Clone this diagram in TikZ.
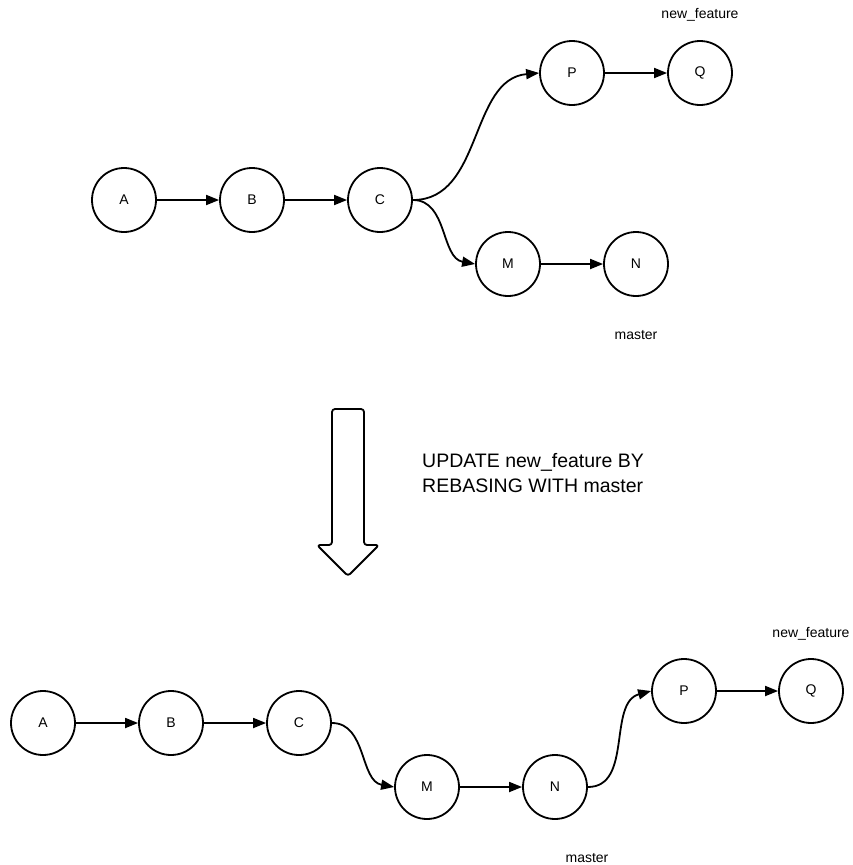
\documentclass[tikz,border=0pt]{standalone}
\usepackage{fontspec}
\setmainfont{Liberation Sans}
\usetikzlibrary{arrows.meta}
\begin{document}
\begin{tikzpicture}[x=1pt,y=-1pt,
  commit/.style={circle,draw,line width=1.8pt,minimum size=64pt,inner sep=0pt,font=\fontsize{14}{17}\selectfont},
  lbl/.style={inner sep=0pt,font=\fontsize{14}{17}\selectfont},
  big/.style={inner sep=0pt,anchor=base west,font=\fontsize{19.5}{24}\selectfont},
  link/.style={line width=1.8pt,-{Triangle[length=13pt,width=10pt]}},
  bigarrow/.style={draw,line width=1.8pt,rounded corners=3pt,line join=round}]
\useasboundingbox (0,0) rectangle (852,865);
% top diagram
\node[commit] (A1) at (124,200) {A};
\node[commit] (B1) at (252,200) {B};
\node[commit] (C1) at (380,200) {C};
\node[commit] (P1) at (572,73) {P};
\node[commit] (Q1) at (700,73) {Q};
\node[commit] (M1) at (508,264) {M};
\node[commit] (N1) at (636,264) {N};
\node[lbl] (nf1) at (700,15) {new\_feature};
\node[lbl] (ms1) at (636,335) {master};
\draw[link] (A1) -- (B1);
\draw[link] (B1) -- (C1);
\draw[link] (C1.east) to[out=0,in=185] (P1.west);
\draw[link] (P1) -- (Q1);
\draw[link] (C1.east) to[out=0,in=170] (M1.west);
\draw[link] (M1) -- (N1);
% big arrow
\draw[bigarrow] (332,409) -- (364,409) -- (364,545) -- (379,545) -- (348,576) -- (317,545) -- (332,545) -- cycle;
\node[big] (t1) at (422,467) {UPDATE new\_feature BY};
\node[big] (t2) at (422,492) {REBASING WITH master};
% bottom diagram
\node[commit] (A2) at (43,723) {A};
\node[commit] (B2) at (171,723) {B};
\node[commit] (C2) at (299,723) {C};
\node[commit] (M2) at (427,787) {M};
\node[commit] (N2) at (555,787) {N};
\node[commit] (P2) at (684,691) {P};
\node[commit] (Q2) at (811,691) {Q};
\node[lbl] (nf2) at (811,634) {new\_feature};
\node[lbl] (ms2) at (587,858) {master};
\draw[link] (A2) -- (B2);
\draw[link] (B2) -- (C2);
\draw[link] (C2.east) to[out=0,in=170] (M2.west);
\draw[link] (M2) -- (N2);
\draw[link] (N2.east) to[out=0,in=195] (P2.west);
\draw[link] (P2) -- (Q2);
\end{tikzpicture}
\end{document}
